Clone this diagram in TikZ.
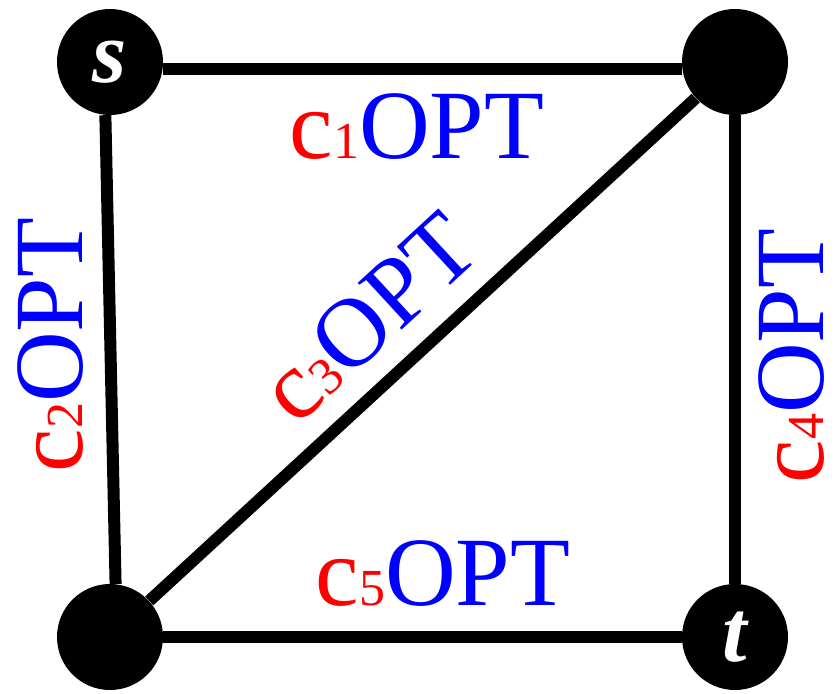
\documentclass[tikz,border=0pt]{standalone}
\usepackage{fontspec}
\setmainfont{Liberation Serif}
\usepackage{xcolor}
\usepackage{tikz}
\usetikzlibrary{positioning,calc}
\definecolor{costcol}{HTML}{FF0000}
\definecolor{optcol}{HTML}{0000FF}
\newcommand{\costlabel}[1]{\textcolor{costcol}{c{\fontsize{26pt}{26pt}\selectfont #1}}\textcolor{optcol}{OPT}}

\begin{document}
\begin{tikzpicture}[
  x=0.5pt, y=0.5pt,
  vertex/.style={circle, fill=black, minimum size=53pt, inner sep=0pt,
    text=white, font=\fontsize{44pt}{44pt}\selectfont\bfseries\itshape},
  edgeline/.style={draw, line width=6pt},
  costnode/.style={inner sep=0pt, anchor=base, font=\fontsize{49pt}{49pt}\selectfont}
]
\useasboundingbox (0,0) rectangle (840,693);
\node[vertex] (s) at (110,631) {s};
\node[vertex] (a) at (735,631) {};
\node[vertex] (b) at (110,56) {};
\node[vertex] (t) at (735,56) {t};

\path[edgeline] (s.-7) -- (a.187);
\path[edgeline] (s.265) -- (b.84);
\path[edgeline] (b) -- (a);
\path[edgeline] (a) -- (t);
\path[edgeline] (b) -- (t);

% edge costs
\node[costnode] (c1) at (417,535) {\costlabel{1}};
\node[costnode, rotate=90] (c2) at (82,348) {\costlabel{2}};
\node[costnode, rotate=42.66] (c3) at (390,352) {\costlabel{3}};
\node[costnode, rotate=90] (c4) at (823,337) {\costlabel{4}};
\node[costnode] (c5) at (443,88) {\costlabel{5}};
\end{tikzpicture}
\end{document}
